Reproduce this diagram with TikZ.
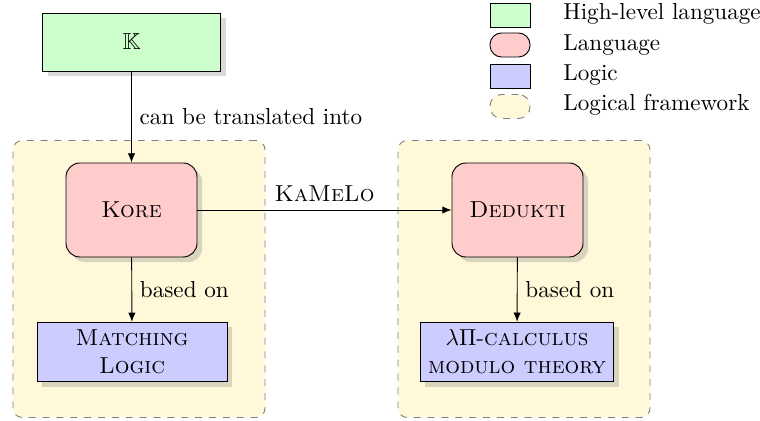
\documentclass[tikz,border=0pt]{standalone}
\usepackage{amssymb}
\usetikzlibrary{arrows.meta,shadows}

\definecolor{lfyellow}{RGB}{255,249,217}
\def\pxu{0.0152cm}

\begin{document}
\begin{tikzpicture}[x=\pxu, y=-\pxu,
    boxshadow/.style={drop shadow={shadow xshift=2.2pt, shadow yshift=-2.2pt, opacity=.3}},
    hll/.style={draw, fill=green!20, boxshadow},
    lang/.style={draw, fill=red!20, rounded corners=6pt, boxshadow},
    logic/.style={draw, fill=blue!20, boxshadow, align=center},
    lf/.style={draw=black!50, dashed, fill=lfyellow, rounded corners=4pt},
    swatch/.style={minimum width=40*\pxu, minimum height=24*\pxu, inner sep=0pt},
    legtext/.style={anchor=west, inner sep=0pt}]
    \useasboundingbox (0,0) rectangle (760,421);

    % logical frameworks
    \node[lf, minimum width=252*\pxu, minimum height=277*\pxu] (lfl) at (139,279) {};
    \node[lf, minimum width=252*\pxu, minimum height=277*\pxu] (lfr) at (524,279) {};

    % boxes
    \node[hll, minimum width=178*\pxu, minimum height=58*\pxu] (k) at (131.5,42) {$\mathbb{K}$};
    \node[lang, minimum width=131*\pxu, minimum height=94*\pxu] (kore) at (131.5,210) {\textsc{Kore}};
    \node[lang, minimum width=131*\pxu, minimum height=94*\pxu] (dedukti) at (517.5,210) {\textsc{Dedukti}};
    \node[logic, minimum width=190*\pxu, minimum height=58*\pxu] (ml) at (132,352) {\textsc{Matching}\\\textsc{Logic}};
    \node[logic, minimum width=190*\pxu, minimum height=58*\pxu] (lpi) at (517,352) {$\lambda\Pi$-\textsc{calculus}\\\textsc{modulo theory}};

    % connectors
    \begin{scope}[every path/.style={-{Latex[length=4pt,width=3.2pt]}}]
        \draw (k) -- node[right] {can be translated into} (kore);
        \draw (kore) -- node[above] {\textsc{KaMeLo}} (dedukti);
        \draw (kore) -- node[right] {based on} (ml);
        \draw (dedukti) -- node[right] {based on} (lpi);
    \end{scope}

    % legend
    \node[swatch, draw, fill=green!20] (lg1) at (510,15) {};
    \node[swatch, draw, fill=red!20, rounded corners=5pt] (lg2) at (510,45) {};
    \node[swatch, draw, fill=blue!20] (lg3) at (510,76) {};
    \node[swatch, draw=black!50, dashed, fill=lfyellow, rounded corners=5pt] (lg4) at (510,106.5) {};
    \node[legtext] (lt1) at (563,14) {High-level language};
    \node[legtext] (lt2) at (563,44.5) {Language};
    \node[legtext] (lt3) at (563,74.5) {Logic};
    \node[legtext] (lt4) at (563,104.5) {Logical framework};
\end{tikzpicture}
\end{document}
